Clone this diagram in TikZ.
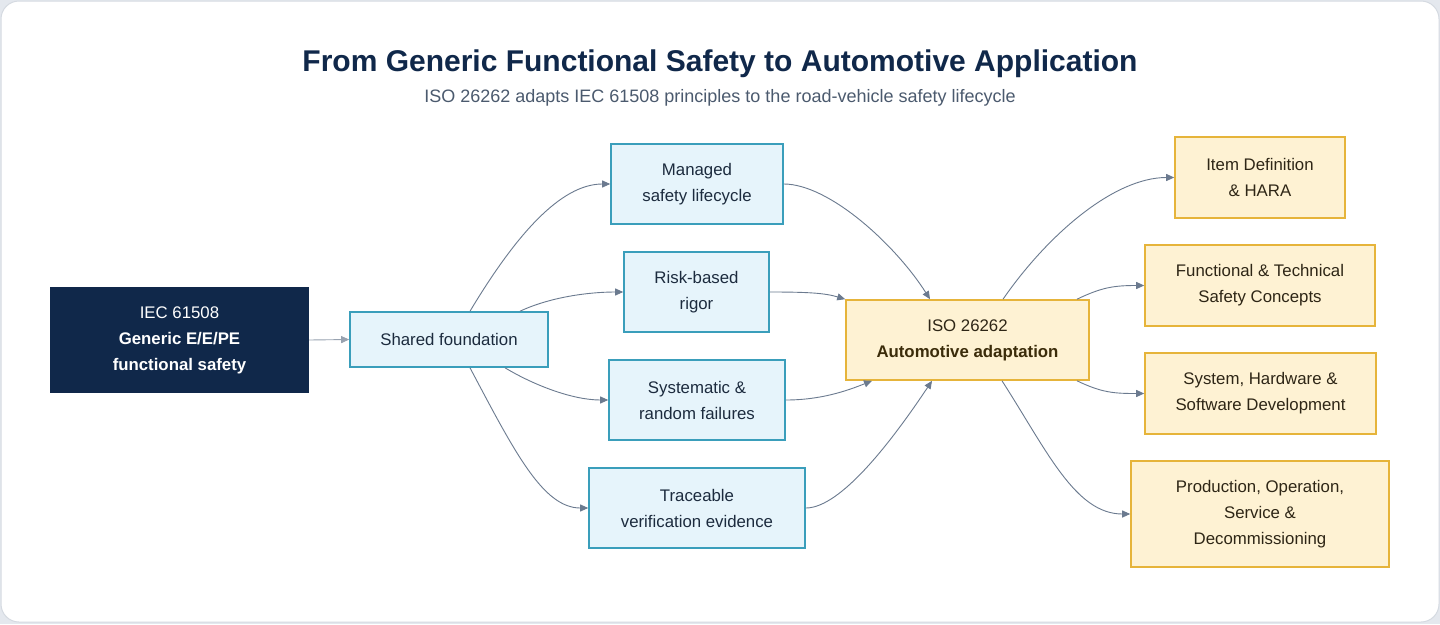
\documentclass[tikz,border=0pt]{standalone}
\usepackage{fontspec}
\setmainfont{Liberation Sans}
\usetikzlibrary{arrows.meta}
\definecolor{navy}{HTML}{10284A}
\definecolor{subgray}{HTML}{4B5A6E}
\definecolor{bgout}{HTML}{E4E8EE}
\definecolor{cardline}{HTML}{D5DAE1}
\definecolor{bluefill}{HTML}{E6F4FB}
\definecolor{blueline}{HTML}{3A9EBB}
\definecolor{bluetext}{HTML}{1C2B3E}
\definecolor{yelfill}{HTML}{FEF2D3}
\definecolor{yelline}{HTML}{E6B43A}
\definecolor{yeltext}{HTML}{2E2616}
\definecolor{yelbold}{HTML}{3B2C0A}
\definecolor{edgec}{HTML}{6B7A8F}
\definecolor{edgelight}{HTML}{98A2B0}
\tikzset{
  boxtext/.style={font=\fontsize{16.8}{26}\selectfont, align=center, inner sep=0pt},
  bluebox/.style={boxtext, draw=blueline, fill=bluefill, line width=1.6pt, text=bluetext},
  yelbox/.style={boxtext, draw=yelline, fill=yelfill, line width=1.6pt, text=yeltext},
  navybox/.style={boxtext, fill=navy, text=white},
  edge/.style={draw=edgec, line width=0.9pt, -{Triangle[length=8pt,width=7pt]}},
}
\begin{document}
\begin{tikzpicture}[x=1pt,y=-1pt]
\fill[bgout] (0,0) rectangle (1440,624);
\useasboundingbox (0,0) rectangle (1440,624);
\draw[cardline, fill=white, line width=1pt, rounded corners=18pt] (1,1) rectangle (1439,622);

\node[font=\fontsize{30}{36}\selectfont\bfseries, text=navy, anchor=base] (title) at (720,71) {From Generic Functional Safety to Automotive Application};
\node[font=\fontsize{18}{22}\selectfont, text=subgray, anchor=base] (subtitle) at (720,102) {ISO 26262 adapts IEC 61508 principles to the road-vehicle safety lifecycle};

\node[navybox, minimum width=259pt, minimum height=106pt] (iec) at (179.5,340) {IEC 61508\\\textbf{Generic E/E/PE}\\\textbf{functional safety}};
\node[bluebox, minimum width=198pt, minimum height=55pt] (shared) at (449,339.5) {Shared foundation};
\node[bluebox, minimum width=172pt, minimum height=80pt] (managed) at (697,184) {Managed\\safety lifecycle};
\node[bluebox, minimum width=145pt, minimum height=80pt] (risk) at (696.5,292) {Risk-based\\rigor};
\node[bluebox, minimum width=176pt, minimum height=80pt] (syst) at (697,400) {Systematic \&\\random failures};
\node[bluebox, minimum width=216pt, minimum height=80pt] (trace) at (697,508) {Traceable\\verification evidence};
\node[yelbox, minimum width=243pt, minimum height=80pt] (iso) at (967.5,340) {ISO 26262\\\textcolor{yelbold}{\textbf{Automotive adaptation}}};
\node[yelbox, minimum width=170pt, minimum height=81pt] (item) at (1260,177.5) {Item Definition\\\& HARA};
\node[yelbox, minimum width=230pt, minimum height=81pt] (func) at (1260,285.5) {Functional \& Technical\\Safety Concepts};
\node[yelbox, minimum width=231pt, minimum height=81pt] (sys) at (1260.5,393.5) {System, Hardware \&\\Software Development};
\node[yelbox, minimum width=258pt, minimum height=106pt] (prod) at (1260,514) {Production, Operation,\\Service \&\\Decommissioning};

\draw[edge, draw=edgelight] (iec.east) -- (shared.west);
\draw[edge] ([xshift=21pt]shared.north) .. controls +(45,-75) and +(-50,0) .. (managed.west);
\draw[edge] ([xshift=71pt]shared.north) .. controls +(30,-14) and +(-35,0) .. (risk.west);
\draw[edge] ([xshift=56pt]shared.south) .. controls +(30,18) and +(-35,0) .. (syst.west);
\draw[edge] ([xshift=21pt]shared.south) .. controls +(45,85) and +(-45,0) .. (trace.west);
\draw[edge] (managed.east) .. controls +(45,0) and +(-35,-55) .. ([xshift=-37.5pt]iso.north);
\draw[edge] (risk.east) .. controls +(40,0) and +(-20,-6) .. (iso.north west);
\draw[edge] (syst.east) .. controls +(35,0) and +(-25,10) .. ([xshift=-95.5pt]iso.south);
\draw[edge] (trace.east) .. controls +(35,0) and +(-40,60) .. ([xshift=-35.5pt]iso.south);
\draw[edge] ([xshift=35.5pt]iso.north) .. controls +(45,-65) and +(-60,0) .. (item.west);
\draw[edge] ([xshift=109.5pt]iso.north) .. controls +(25,-12) and +(-30,0) .. (func.west);
\draw[edge] ([xshift=109.5pt]iso.south) .. controls +(25,12) and +(-30,0) .. (sys.west);
\draw[edge] ([xshift=34.5pt]iso.south) .. controls +(45,70) and +(-55,0) .. (prod.west);
\end{tikzpicture}
\end{document}
